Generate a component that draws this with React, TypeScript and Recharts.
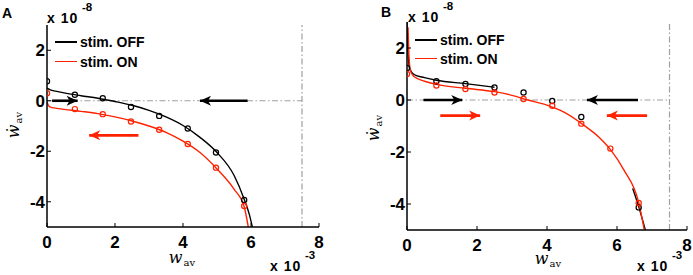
import React from "react"
import { ComposedChart, Line, Scatter, XAxis, YAxis, ReferenceLine, ReferenceDot } from "recharts"

const RED = "#ff2200"
const GRAY = "#a0a0a0"

// x in units of 1e-3, y in units of 1e-8
const xTicks = [0, 2, 4, 6, 8]
const yTicks = [-4, -2, 0, 2]
const wMax = 7.5

// panel A
const curveOffA = [
  { x: 0, y: 0.5 }, { x: 0.1, y: 0.43 }, { x: 0.25, y: 0.38 }, { x: 0.5, y: 0.31 },
  { x: 1, y: 0.2 }, { x: 1.5, y: 0.1 }, { x: 2, y: -0.03 }, { x: 2.5, y: -0.18 },
  { x: 3, y: -0.38 }, { x: 3.5, y: -0.64 }, { x: 4, y: -0.98 }, { x: 4.5, y: -1.45 },
  { x: 5, y: -2.05 }, { x: 5.5, y: -2.95 }, { x: 5.8, y: -3.9 }, { x: 5.95, y: -4.5 },
  { x: 6.04, y: -5 },
]
const curveOnA = [
  { x: 0, y: -0.05 }, { x: 0.04, y: -0.18 }, { x: 0.1, y: -0.25 }, { x: 0.25, y: -0.29 },
  { x: 0.5, y: -0.34 }, { x: 1, y: -0.42 }, { x: 1.5, y: -0.51 }, { x: 2, y: -0.64 },
  { x: 2.5, y: -0.8 }, { x: 3, y: -1.0 }, { x: 3.5, y: -1.25 }, { x: 4, y: -1.6 },
  { x: 4.5, y: -2.05 }, { x: 5, y: -2.7 }, { x: 5.5, y: -3.5 }, { x: 5.8, y: -4.2 },
  { x: 5.92, y: -5 },
]
const dotsOffA = [
  { x: 0, y: 0.77 }, { x: 0.82, y: 0.24 }, { x: 1.64, y: 0.1 }, { x: 2.47, y: -0.25 },
  { x: 3.3, y: -0.6 }, { x: 4.14, y: -1.1 }, { x: 4.97, y: -2.05 }, { x: 5.8, y: -3.93 },
]
const dotsOnA = [
  { x: 0, y: 0.3 }, { x: 0.82, y: -0.33 }, { x: 1.64, y: -0.53 }, { x: 2.47, y: -0.82 },
  { x: 3.3, y: -1.15 }, { x: 4.14, y: -1.71 }, { x: 4.97, y: -2.65 }, { x: 5.8, y: -4.17 },
]
const arrowsA = [
  { y: 0, from: 0.15, to: 0.9, color: "#000" },
  { y: 0, from: 5.9, to: 4.5, color: "#000" },
  { y: -1.37, from: 2.69, to: 1.24, color: RED },
]

// panel B
const curveOffB = [
  { x: 0, y: 3 }, { x: 0.03, y: 1.8 }, { x: 0.08, y: 1.2 }, { x: 0.2, y: 0.98 },
  { x: 0.5, y: 0.86 }, { x: 0.84, y: 0.76 }, { x: 1.67, y: 0.63 }, { x: 2.5, y: 0.49 },
  { x: 2.51, y: null }, { x: 6.45, y: -3.4 }, { x: 6.62, y: -4.1 }, { x: 6.81, y: -5 },
]
const curveOnB = [
  { x: 0.03, y: 2.8 }, { x: 0.06, y: 1.6 }, { x: 0.1, y: 1.12 }, { x: 0.2, y: 0.9 },
  { x: 0.5, y: 0.72 }, { x: 0.84, y: 0.6 }, { x: 1.67, y: 0.45 }, { x: 2.5, y: 0.32 },
  { x: 3, y: 0.18 }, { x: 3.45, y: 0 }, { x: 4, y: -0.2 }, { x: 4.5, y: -0.48 },
  { x: 5, y: -0.92 }, { x: 5.5, y: -1.45 }, { x: 5.81, y: -1.9 }, { x: 6.2, y: -2.7 },
  { x: 6.62, y: -3.95 }, { x: 6.78, y: -5 },
]
const dotsOffB = [
  { x: 0, y: 1.23 }, { x: 0.84, y: 0.72 }, { x: 1.67, y: 0.62 }, { x: 2.5, y: 0.48 },
  { x: 3.33, y: 0.29 }, { x: 4.15, y: -0.04 }, { x: 4.98, y: -0.65 }, { x: 6.62, y: -4.13 },
]
const dotsOnB = [
  { x: 0, y: 1.0 }, { x: 0.84, y: 0.56 }, { x: 1.67, y: 0.42 }, { x: 2.5, y: 0.29 },
  { x: 3.33, y: 0.04 }, { x: 4.15, y: -0.22 }, { x: 4.98, y: -0.91 }, { x: 5.81, y: -1.87 },
  { x: 6.62, y: -3.96 },
]
const arrowsB = [
  { y: 0, from: 0.47, to: 1.58, color: "#000" },
  { y: 0, from: 6.6, to: 5.14, color: "#000" },
  { y: -0.6, from: 0.95, to: 2.09, color: RED },
  { y: -0.6, from: 6.86, to: 5.71, color: RED },
]

const SANS = "'Liberation Sans', Arial, Helvetica, sans-serif"
const SERIF = "'DejaVu Serif', 'Liberation Serif', serif"

const XTick = (p: any) => (
  <text x={p.x} y={p.y} dy="0.71em" textAnchor="middle" fontSize={17} fontWeight="bold" fontFamily={SANS} fill="#000">
    {p.payload.value}
  </text>
)
const YTick = (p: any) => (
  <text x={p.x} y={p.y} dy="0.36em" textAnchor="end" fontSize={17} fontWeight="bold" fontFamily={SANS} fill="#000">
    {p.payload.value}
  </text>
)

const ring = (color: string) => (p: any) => (
  <circle cx={p.cx} cy={p.cy} r={2.6} fill="none" stroke={color} strokeWidth={1.2} />
)

const head = (dir: number, color: string) => (p: any) => {
  const { cx, cy } = p
  const pts = [
    [cx, cy],
    [cx - dir * 11, cy - 5],
    [cx - dir * 8, cy],
    [cx - dir * 11, cy + 5],
  ]
  return <polygon points={pts.map((q) => q.join(",")).join(" ")} fill={color} />
}

function Txt({ left, top, size, children, style }: any) {
  return (
    <div style={{ position: "absolute", left, top, fontSize: size, lineHeight: 1, fontFamily: SANS, whiteSpace: "nowrap", ...style }}>
      {children}
    </div>
  )
}

function Times10({ left, top, exp }: { left: number; top: number; exp: string }) {
  return (
    <>
      <Txt left={left} top={top} size={14} style={{ letterSpacing: 1, fontWeight: "bold" }}>x 10</Txt>
      <Txt left={left + 35} top={top - 9} size={11.5} style={{ fontWeight: "bold" }}>{exp}</Txt>
    </>
  )
}

function WLabel({ cx, top }: { cx: number; top: number }) {
  return (
    <div style={{ position: "absolute", left: cx - 20, top, width: 40, textAlign: "center", fontFamily: SERIF, lineHeight: 1, whiteSpace: "nowrap" }}>
      <span style={{ fontSize: 16, fontStyle: "italic" }}>w</span>
      <span style={{ fontSize: 10, position: "relative", top: 3, marginLeft: 1 }}>av</span>
    </div>
  )
}

function WDotLabel({ cx, cy }: { cx: number; cy: number }) {
  return (
    <div style={{ position: "absolute", left: cx - 20, top: cy - 9, width: 40, height: 18, transform: "rotate(-90deg)", textAlign: "center", fontFamily: SERIF, lineHeight: "18px", whiteSpace: "nowrap" }}>
      <span style={{ fontSize: 16, fontStyle: "italic" }}>ẇ</span>
      <span style={{ fontSize: 10, position: "relative", top: 3, marginLeft: 1 }}>av</span>
    </div>
  )
}

function LegendBox({ left, top, gap }: { left: number; top: number; gap: number }) {
  const rows = [
    { label: "stim. OFF", color: "#000" },
    { label: "stim. ON", color: RED },
  ]
  return (
    <>
      {rows.map((r, i) => (
        <React.Fragment key={r.label}>
          <div style={{ position: "absolute", left, top: top + i * gap - 0.6, width: 22, height: 1.3, background: r.color }} />
          <Txt left={left + 25} top={top + i * gap - 7} size={14} style={{ fontWeight: "bold" }}>{r.label}</Txt>
        </React.Fragment>
      ))}
    </>
  )
}

interface PanelProps {
  left: number
  width: number
  top: number
  right: number
  xAxisHeight: number
  curveOff: any[]
  curveOn: any[]
  dotsOff: any[]
  dotsOn: any[]
  arrows: { y: number; from: number; to: number; color: string }[]
}

function Panel({ left, width, top, right, xAxisHeight, curveOff, curveOn, dotsOff, dotsOn, arrows }: PanelProps) {
  return (
    <div style={{ position: "absolute", left, top: 0 }}>
      <ComposedChart width={width} height={275} margin={{ top, right, bottom: 0, left: 0 }}>
        <XAxis
          dataKey="x"
          type="number"
          domain={[0, 8]}
          ticks={xTicks}
          height={xAxisHeight}
          tick={XTick}
          tickSize={-4}
          tickMargin={13}
          axisLine={{ stroke: "#000", strokeWidth: 1.5 }}
          tickLine={{ stroke: "#000", strokeWidth: 1 }}
          allowDataOverflow
        />
        <YAxis
          type="number"
          domain={[-5, 3]}
          ticks={yTicks}
          width={47}
          tick={YTick}
          tickSize={-4}
          tickMargin={6}
          axisLine={{ stroke: "#000", strokeWidth: 1.5 }}
          tickLine={{ stroke: "#000", strokeWidth: 1 }}
          allowDataOverflow
        />
        <ReferenceLine
          segment={[{ x: 0, y: 0 }, { x: wMax, y: 0 }]}
          stroke={GRAY}
          strokeWidth={1.2}
          strokeDasharray="6 2.5 1.5 2.5"
        />
        <ReferenceLine
          segment={[{ x: wMax, y: -5 }, { x: wMax, y: 3 }]}
          stroke={GRAY}
          strokeWidth={1.2}
          strokeDasharray="6 2.5 1.5 2.5"
        />
        {arrows.map((a, i) => (
          <ReferenceLine
            key={"s" + i}
            segment={[{ x: a.from, y: a.y }, { x: a.to, y: a.y }]}
            stroke={a.color}
            strokeWidth={2.6}
          />
        ))}
        {arrows.map((a, i) => (
          <ReferenceDot key={"h" + i} x={a.to} y={a.y} shape={head(Math.sign(a.to - a.from), a.color)} />
        ))}
        <Line data={curveOff} dataKey="y" type="monotone" stroke="#000" strokeWidth={1.4} dot={false} isAnimationActive={false} />
        <Line data={curveOn} dataKey="y" type="monotone" stroke={RED} strokeWidth={1.4} dot={false} isAnimationActive={false} />
        <Scatter data={dotsOff} dataKey="y" shape={ring("#000")} isAnimationActive={false} />
        <Scatter data={dotsOn} dataKey="y" shape={ring(RED)} isAnimationActive={false} />
      </ComposedChart>
    </div>
  )
}

export default function App() {
  return (
    <div style={{ position: "absolute", left: 0, top: 0, width: 693, height: 275, background: "#fff", overflow: "hidden" }}>
      <Panel left={0} width={346} top={25} right={27} xAxisHeight={48}
        curveOff={curveOffA} curveOn={curveOnA} dotsOff={dotsOffA} dotsOn={dotsOnA} arrows={arrowsA} />
      <Panel left={360} width={333} top={22} right={6} xAxisHeight={45}
        curveOff={curveOffB} curveOn={curveOnB} dotsOff={dotsOffB} dotsOn={dotsOnB} arrows={arrowsB} />

      <Txt left={2} top={6} size={14} style={{ fontWeight: "bold" }}>A</Txt>
      <Txt left={381} top={5} size={14} style={{ fontWeight: "bold" }}>B</Txt>

      <Times10 left={47} top={11} exp="-8" />
      <Times10 left={408} top={10} exp="-8" />
      <Times10 left={270} top={259} exp="-3" />
      <Times10 left={637} top={259} exp="-3" />

      <LegendBox left={55} top={42} gap={19.5} />
      <LegendBox left={415} top={40} gap={18.5} />

      <WLabel cx={182} top={250} />
      <WLabel cx={548} top={251} />
      <WDotLabel cx={14} cy={125} />
      <WDotLabel cx={374} cy={128} />
    </div>
  )
}
